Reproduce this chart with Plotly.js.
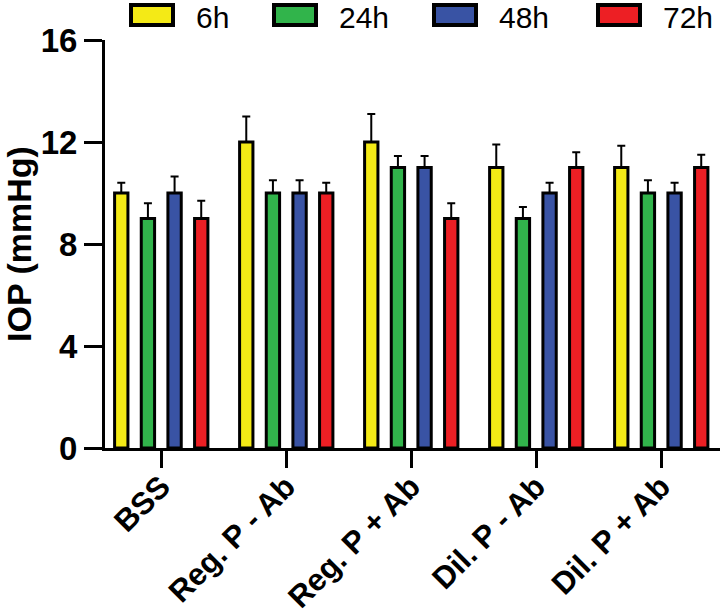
<!DOCTYPE html>
<html>
<head>
<meta charset="utf-8">
<script src="https://cdn.plot.ly/plotly-3.0.1.min.js"></script>
<style>html,body{margin:0;padding:0;background:#fff;}#chart{width:720px;height:616px;}</style>
</head>
<body>
<div id="chart"></div>
<script>
const categories = ['BSS', 'Reg. P - Ab', 'Reg. P + Ab', 'Dil. P - Ab', 'Dil. P + Ab'];
const seriesNames = ['6h', '24h', '48h', '72h'];
const seriesColors = ['#f4ea16', '#31b44b', '#3953a4', '#ed1f24'];
const values6h  = [10, 12, 12, 11, 11];
const values24h = [9, 10, 11, 9, 10];
const values48h = [10, 10, 11, 10, 10];
const values72h = [9, 10, 9, 11, 11];
const err6h  = [0.4, 1.0, 1.1, 0.9, 0.85];
const err24h = [0.6, 0.5, 0.45, 0.45, 0.5];
const err48h = [0.65, 0.5, 0.45, 0.4, 0.4];
const err72h = [0.7, 0.4, 0.6, 0.6, 0.5];
const yTicks = [0, 4, 8, 12, 16];

const allValues = [values6h, values24h, values48h, values72h];
const allErr = [err6h, err24h, err48h, err72h];
const FONT = 'Liberation Sans, Arial, sans-serif';

const traces = seriesNames.map((name, i) => ({
  type: 'bar',
  name: name,
  x: categories,
  y: allValues[i],
  marker: {color: seriesColors[i], line: {color: '#000', width: 3}},
  error_y: {type: 'data', symmetric: false, array: allErr[i], arrayminus: allErr[i].map(() => 0),
            color: '#000', thickness: 2, width: 4},
  showlegend: false
}));

// custom legend (wide swatches) built from series names / colours
const PL = 105, PW = 615, PT = 40, PH = 408;
const legendX = [131, 274, 434, 598];
const shapes = [];
const annotations = [];
seriesNames.forEach((name, i) => {
  shapes.push({type: 'rect', xref: 'paper', yref: 'paper',
    x0: (legendX[i] - PL) / PW, x1: (legendX[i] + 42 - PL) / PW,
    y0: 1 + (PT - 25) / PH, y1: 1 + (PT - 5) / PH,
    fillcolor: seriesColors[i], line: {color: '#000', width: 4}});
  annotations.push({xref: 'paper', yref: 'paper', x: (legendX[i] + 64 - PL) / PW, y: 1 + (PT - 0.5) / PH,
    xanchor: 'left', yanchor: 'top', text: name, showarrow: false, borderpad: 0,
    font: {family: FONT, size: 30, color: '#000'}});
});

const layout = {
  width: 720, height: 616,
  margin: {l: PL, r: 0, t: PT, b: 616 - PT - PH},
  paper_bgcolor: '#fff', plot_bgcolor: '#fff',
  barmode: 'group', bargap: 0.147, bargroupgap: 0.5,
  showlegend: false,
  font: {family: FONT, color: '#000'},
  xaxis: {
    type: 'category', range: [-0.45, 4.47],
    showline: true, linecolor: '#000', linewidth: 3,
    ticks: 'outside', ticklen: 17, tickwidth: 3, tickcolor: '#000',
    tickangle: -45, showgrid: false, zeroline: false, automargin: false,
    ticklabelstandoff: -12,
    tickfont: {size: 31, family: FONT, weight: 'bold', color: '#000'}
  },
  yaxis: {
    range: [0, 16], tickvals: yTicks, ticktext: yTicks.map(String),
    showline: true, linecolor: '#000', linewidth: 3,
    ticks: 'outside', ticklen: 18, tickwidth: 3, tickcolor: '#000',
    showgrid: false, zeroline: false, automargin: false,
    tickfont: {size: 33, family: FONT, weight: 'bold', color: '#000'},
    title: {text: 'IOP (mmHg)', standoff: 6,
      font: {size: 34, family: FONT, weight: 'bold', color: '#000'}}
  },
  shapes: shapes,
  annotations: annotations
};

Plotly.newPlot('chart', traces, layout, {staticPlot: true, displayModeBar: false});
</script>
</body>
</html>
